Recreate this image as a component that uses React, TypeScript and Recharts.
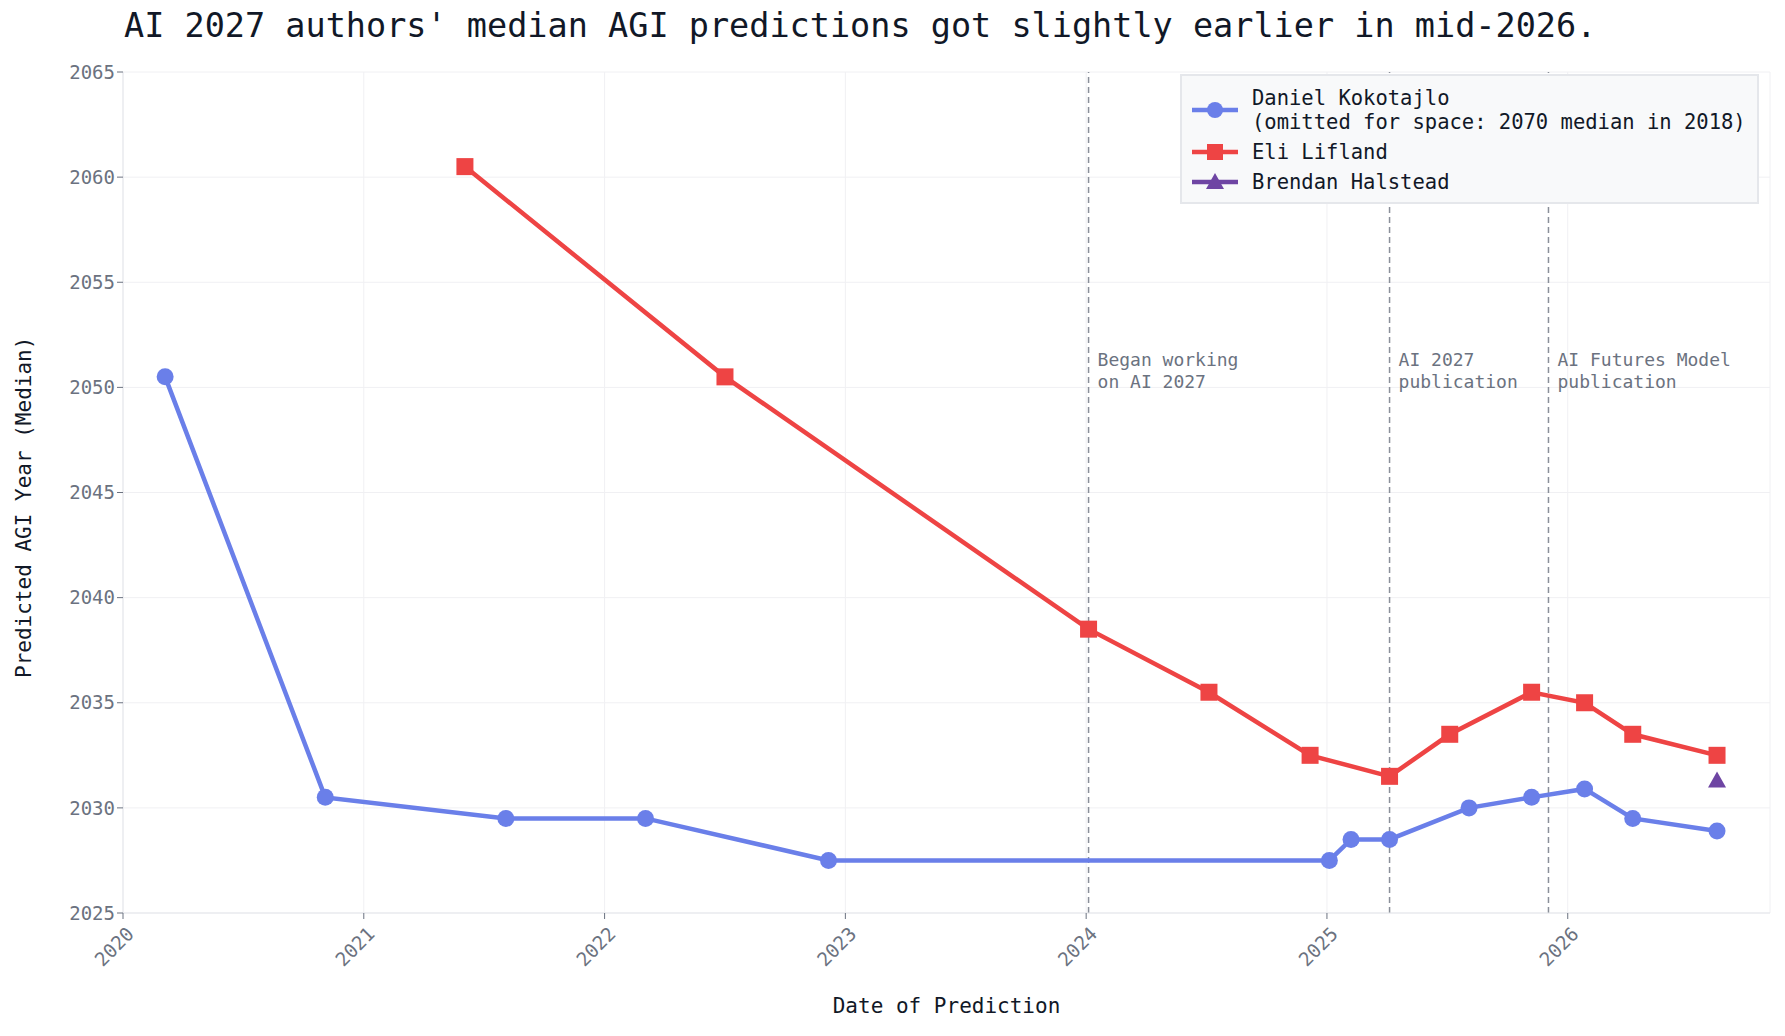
import React from "react";
import {
  LineChart,
  Line,
  XAxis,
  YAxis,
  CartesianGrid,
  ReferenceLine,
} from "recharts";

const danielX = [2020.175, 2020.84, 2021.59, 2022.17, 2022.93, 2025.01, 2025.1, 2025.26, 2025.59, 2025.85, 2026.07, 2026.27, 2026.62];
const danielY = [2050.5, 2030.5, 2029.5, 2029.5, 2027.5, 2027.5, 2028.5, 2028.5, 2030, 2030.5, 2030.9, 2029.5, 2028.9];
const eliX = [2021.42, 2022.5, 2024.01, 2024.51, 2024.93, 2025.26, 2025.51, 2025.85, 2026.07, 2026.27, 2026.62];
const eliY = [2060.5, 2050.5, 2038.5, 2035.5, 2032.5, 2031.5, 2033.5, 2035.5, 2035, 2033.5, 2032.5];
const brendanX = [2026.62];
const brendanY = [2031.3];

const xTicks = [2020, 2021, 2022, 2023, 2024, 2025, 2026];
const yTicks = [2025, 2030, 2035, 2040, 2045, 2050, 2055, 2060, 2065];

const events = [
  { x: 2024.01, lines: ["Began working", "on AI 2027"] },
  { x: 2025.26, lines: ["AI 2027", "publication"] },
  { x: 2025.92, lines: ["AI Futures Model", "publication"] },
];

const BLUE = "#6a7fe9";
const RED = "#ee4444";
const PURPLE = "#6e45a3";
const FONT = "'DejaVu Sans Mono', monospace";

const toPts = (xs: number[], ys: number[]) => xs.map((x, i) => ({ x, y: ys[i] }));

const Square = (p: any) => (
  <rect x={p.cx - 8.5} y={p.cy - 8.5} width={17} height={17} fill={RED} />
);
const Circle = (p: any) => <circle cx={p.cx} cy={p.cy} r={8.5} fill={BLUE} />;
const Tri = (p: any) => (
  <polygon
    points={`${p.cx},${p.cy - 9} ${p.cx - 9},${p.cy + 7} ${p.cx + 9},${p.cy + 7}`}
    fill={PURPLE}
  />
);

const XTick = (p: any) => (
  <text
    x={p.x + 2}
    y={p.y + 4}
    transform={`rotate(-45 ${p.x + 2} ${p.y + 4})`}
    textAnchor="end"
    dominantBaseline="hanging"
    fontSize={19}
    fill="#6b7280"
    fontFamily={FONT}
  >
    {p.payload.value}
  </text>
);

const EventLabel = (lines: string[]) => (p: any) => {
  const vb = p.viewBox;
  return (
    <text x={vb.x + 9} y={vb.y + 294} fontSize={18} fill="#6b7280" fontFamily={FONT}>
      {lines.map((l, i) => (
        <tspan key={i} x={vb.x + 9} dy={i === 0 ? 0 : 22}>
          {l}
        </tspan>
      ))}
    </text>
  );
};

const legendItems = [
  { color: BLUE, label: ["Daniel Kokotajlo", "(omitted for space: 2070 median in 2018)"], shape: "c" },
  { color: RED, label: ["Eli Lifland"], shape: "s" },
  { color: PURPLE, label: ["Brendan Halstead"], shape: "t" },
];

export default function App() {
  return (
    <div style={{ position: "relative", width: 1785, height: 1036, margin: -8, background: "#fff", fontFamily: FONT }}>
      <div style={{ position: "absolute", left: 124, top: 6, fontSize: 33.5, color: "#111827", whiteSpace: "nowrap" }}>
        AI 2027 authors' median AGI predictions got slightly earlier in mid-2026.
      </div>
      <LineChart width={1785} height={1036} margin={{ top: 72, right: 15, bottom: 63, left: 43 }}>
        <CartesianGrid stroke="#f0f0f3" vertical horizontal />
        <XAxis
          type="number"
          dataKey="x"
          domain={[2020, 2026.84]}
          ticks={xTicks}
          tick={<XTick />}
          height={60}
          stroke="#e5e7eb"
          tickLine={{ stroke: "#6b7280" }}
          allowDataOverflow
        />
        <YAxis
          type="number"
          dataKey="y"
          domain={[2025, 2065]}
          ticks={yTicks}
          width={80}
          stroke="#e5e7eb"
          tickLine={{ stroke: "#6b7280" }}
          tick={{ fontSize: 19, fill: "#6b7280", fontFamily: FONT }}
        />
        <XAxis xAxisId="top" orientation="top" type="number" domain={[2020, 2026.84]} tick={false} tickLine={false} stroke="#e5e7eb" height={0} />
        <YAxis yAxisId="right" orientation="right" tick={false} tickLine={false} stroke="#e5e7eb" width={0} />
        {events.map((e) => (
          <ReferenceLine key={e.x} x={e.x} stroke="#8a8f99" strokeWidth={1.5} strokeDasharray="6 4" label={EventLabel(e.lines)} />
        ))}
        <Line data={toPts(eliX, eliY)} dataKey="y" stroke={RED} strokeWidth={4.5} dot={<Square />} isAnimationActive={false} />
        <Line data={toPts(danielX, danielY)} dataKey="y" stroke={BLUE} strokeWidth={4.5} dot={<Circle />} isAnimationActive={false} />
        <Line data={toPts(brendanX, brendanY)} dataKey="y" stroke={PURPLE} strokeWidth={4.5} dot={<Tri />} isAnimationActive={false} />
      </LineChart>
      <div style={{ position: "absolute", left: 12, top: 678, transform: "rotate(-90deg)", transformOrigin: "left top", fontSize: 21, color: "#111827", whiteSpace: "nowrap" }}>
        Predicted AGI Year (Median)
      </div>
      <div style={{ position: "absolute", left: 0, width: 1893, top: 994, textAlign: "center", fontSize: 21, color: "#111827" }}>
        Date of Prediction
      </div>
      <div style={{ position: "absolute", left: 1180, top: 74, width: 579, height: 130, background: "#f8f9fa", border: "2px solid #e5e7eb", boxSizing: "border-box", fontSize: 20.5, color: "#111827", padding: "10px 0 0 0" }}>
        {legendItems.map((it, i) => (
          <div key={i} style={{ display: "flex", alignItems: "center", marginBottom: 6, lineHeight: "24px" }}>
            <svg width={64} height={22} style={{ marginLeft: 6, flexShrink: 0 }}>
              <line x1={4} x2={50} y1={11} y2={11} stroke={it.color} strokeWidth={4.5} />
              {it.shape === "c" && <circle cx={27} cy={11} r={8} fill={it.color} />}
              {it.shape === "s" && <rect x={19} y={3} width={16} height={16} fill={it.color} />}
              {it.shape === "t" && <polygon points="27,2 18,18 36,18" fill={it.color} />}
            </svg>
            <div>{it.label.map((l, j) => <div key={j}>{l}</div>)}</div>
          </div>
        ))}
      </div>
    </div>
  );
}
